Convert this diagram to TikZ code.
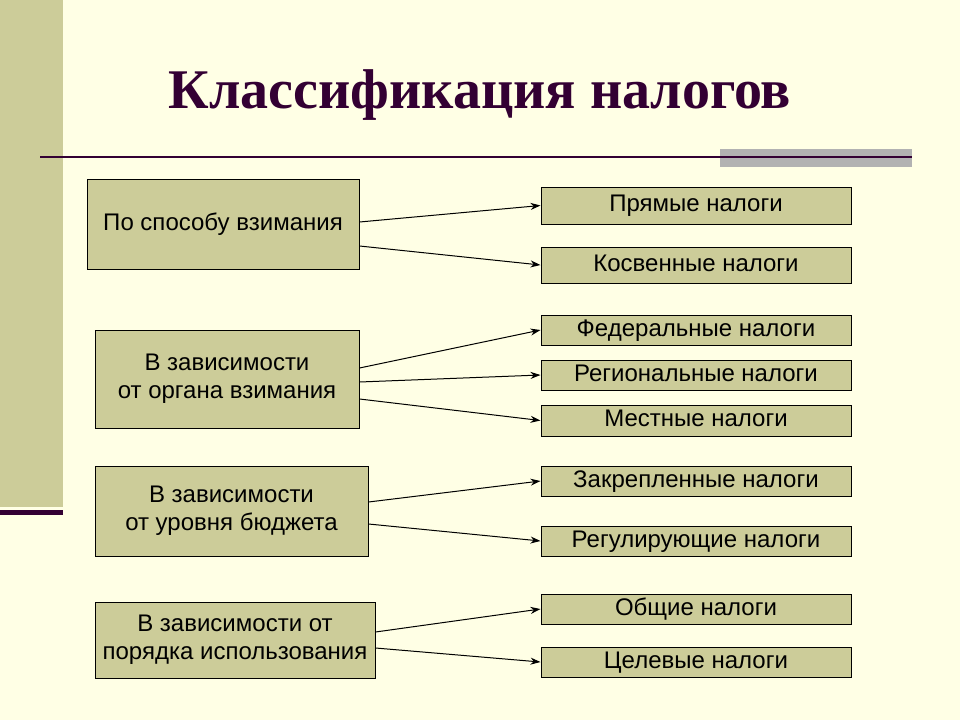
\documentclass[tikz,border=0pt]{standalone}
\usepackage{fontspec}
\setmainfont{Liberation Sans}
\newfontfamily\titlefont{Liberation Serif}
\usetikzlibrary{arrows.meta}
\definecolor{bg}{HTML}{FFFFE5}
\definecolor{khaki}{HTML}{CCCC99}
\definecolor{plum}{HTML}{330033}
\definecolor{greybar}{HTML}{B2B2B2}
\begin{document}
\begin{tikzpicture}[x=1pt,y=-1pt,
  lbox/.style={draw=black,line width=1pt,fill=khaki,align=center,font=\fontsize{24}{28}\selectfont,inner sep=0pt},
  rbox/.style={draw=black,line width=1pt,fill=khaki,font=\fontsize{24}{28}\selectfont,inner sep=0pt,text height=16pt,text depth=4pt},
  conn/.style={-{Stealth[length=10pt,width=7pt]},line width=1pt}]
\useasboundingbox (0,0) rectangle (960,720);
\fill[bg] (0,0) rectangle (960,720);
\fill[khaki] (0,0) rectangle (63,507);
\fill[plum] (0,510) rectangle (63,515);
\fill[greybar] (720,149) rectangle (912,167);
\draw[plum,line width=2pt] (40,157) -- (912,157);
\node[font=\titlefont\bfseries\fontsize{56}{64}\selectfont,text=plum] (title) at (480,95) {Классификация налогов};
% left boxes
\node[lbox,minimum width=272pt,minimum height=90pt] (b1) at (223,224) {По способу взимания};
\node[lbox,minimum width=264pt,minimum height=98pt] (b2) at (227,379) {В зависимости\\от органа взимания};
\node[lbox,minimum width=273pt,minimum height=90pt] (b3) at (231.5,511) {В зависимости\\ от уровня бюджета};
\node[lbox,minimum width=280pt,minimum height=76pt] (b4) at (235,640) {В зависимости от\\порядка использования};
% right boxes
\foreach \n/\yc/\h/\t in {r1/205.5/37/Прямые налоги, r2/265/36/Косвенные налоги, r3/330/30/Федеральные налоги, r4/375/30/Региональные налоги, r5/420.5/31/Местные налоги, r6/481/30/Закрепленные налоги, r7/541/30/Регулирующие налоги, r8/609/30/Общие налоги, r9/662/30/Целевые налоги}
  \node[rbox,minimum width=310pt,minimum height=\h pt] (\n) at (696,\yc) {\t};
% connectors
\draw[conn] ([yshift=2pt]b1.east) -- (r1.west);
\draw[conn] ([yshift=-22pt]b1.east) -- (r2.west);
\draw[conn] ([yshift=11pt]b2.east) -- (r3.west);
\draw[conn] ([yshift=-3pt]b2.east) -- (r4.west);
\draw[conn] ([yshift=-20pt]b2.east) -- (r5.west);
\draw[conn] ([yshift=9pt]b3.east) -- (r6.west);
\draw[conn] ([yshift=-13pt]b3.east) -- (r7.west);
\draw[conn] ([yshift=8pt]b4.east) -- (r8.west);
\draw[conn] ([yshift=-8pt]b4.east) -- (r9.west);
\end{tikzpicture}
\end{document}
